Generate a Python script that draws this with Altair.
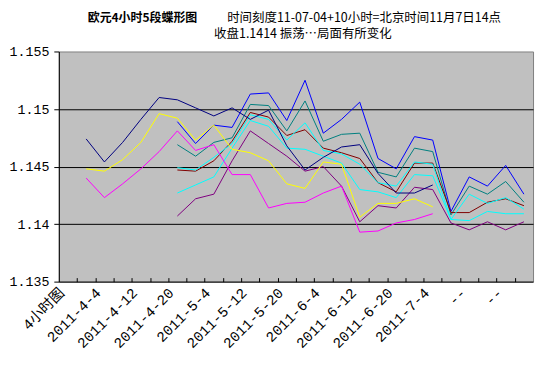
import altair as alt
import pandas as pd

# ---- data ----
tick_labels = ["4小时图", "2011-4-4", "2011-4-12", "2011-4-20", "2011-5-4", "2011-5-12",
               "2011-5-20", "2011-6-4", "2011-6-12", "2011-6-20", "2011-7-4", "--", "--"]
n_categories = 26
idx_group1 = list(range(1, 21))
idx_group2 = list(range(6, 26))

navy = [1.1474, 1.1454, 1.1471, 1.1491, 1.1510, 1.1508, 1.1501, 1.1494, 1.1501, 1.1491,
        1.1499, 1.1468, 1.1447, 1.1458, 1.1467, 1.1469, 1.1444, 1.1427, 1.1427, 1.1434]
yellow = [1.1448, 1.1446, 1.1456, 1.1471, 1.1496, 1.1492, 1.1473, 1.1486, 1.1465, 1.1462,
          1.1455, 1.1435, 1.1431, 1.1454, 1.1452, 1.1406, 1.1418, 1.1418, 1.1422, 1.1415]
magenta = [1.1440, 1.1423, 1.1435, 1.1448, 1.1463, 1.1481, 1.1464, 1.1469, 1.1443, 1.1443,
           1.1414, 1.1418, 1.1419, 1.1427, 1.1433, 1.1393, 1.1394, 1.1401, 1.1404, 1.1409]
blue = [1.1489, 1.1470, 1.1486, 1.1484, 1.1513, 1.1514, 1.1490, 1.1525, 1.1479, 1.1491,
        1.1506, 1.1457, 1.1448, 1.1476, 1.1473, 1.1411, 1.1441, 1.1433, 1.1451, 1.1426]
teal = [1.1469, 1.1459, 1.1471, 1.1475, 1.1504, 1.1503, 1.1481, 1.1507, 1.1472, 1.1478,
        1.1479, 1.1445, 1.1441, 1.1466, 1.1463, 1.1408, 1.1433, 1.1426, 1.1437, 1.1419]
darkred = [1.1447, 1.1446, 1.1455, 1.1472, 1.1497, 1.1493, 1.1477, 1.1482, 1.1466, 1.1462,
           1.1457, 1.1436, 1.1428, 1.1453, 1.1453, 1.1410, 1.1410, 1.1419, 1.1422, 1.1416]
cyan1 = [1.1449, 1.1447, 1.1458, 1.1470, 1.1495, 1.1491, 1.1473, 1.1488, 1.1464, 1.1461,
         1.1452, 1.1436, 1.1433, 1.1454, 1.1452, 1.1404, 1.1426, 1.1418, 1.1423, 1.1413]
cyan2 = [1.1427, 1.1434, 1.1441, 1.1466, 1.1490, 1.1485, 1.1466, 1.1465, 1.1459, 1.1453,
         1.1430, 1.1428, 1.1423, 1.1443, 1.1442, 1.1404, 1.1403, 1.1411, 1.1409, 1.1409]
purple = [1.1407, 1.1422, 1.1426, 1.1455, 1.1481, 1.1470, 1.1459, 1.1446, 1.1450, 1.1433,
          1.1402, 1.1416, 1.1414, 1.1432, 1.1430, 1.1401, 1.1395, 1.1402, 1.1395, 1.1402]

series_names = ["s1", "s2", "s3", "s4", "s5", "s6", "s7", "s8", "s9"]
series_colors = ["#000080", "#FFFF00", "#FF00FF", "#0000FF", "#008080", "#800000",
                 "#00FFFF", "#00FFFF", "#800080"]

title_bold = "欧元4小时5段蝶形图"
title_rest = "时间刻度11-07-04+10小时=北京时间11月7日14点"
title_line2 = "收盘1.1414 振荡…局面有所变化"

y_ticks = [1.135, 1.14, 1.145, 1.15, 1.155]

# ---- build tables ----
rows1, rows2 = [], []
for name, vals in zip(series_names[:3], [navy, yellow, magenta]):
    for i, v in zip(idx_group1, vals):
        rows1.append({"s": name, "i": i, "v": v})
for name, vals in zip(series_names[3:], [blue, teal, darkred, cyan1, cyan2, purple]):
    for i, v in zip(idx_group2, vals):
        rows2.append({"s": name, "i": i, "v": v})
df1 = pd.DataFrame(rows1)
df2 = pd.DataFrame(rows2)

W, H = 476, 231

xscale = alt.Scale(domain=[-0.5, n_categories - 0.5], nice=False, zero=False)
yscale = alt.Scale(domain=[1.135, 1.155], nice=False, zero=False)
cscale = alt.Scale(domain=series_names, range=series_colors)

label_js = "[" + ",".join("'" + t + "'" for t in tick_labels) + "]"
label_axis = alt.Axis(
    orient="bottom", values=[2 * k for k in range(len(tick_labels))],
    labelExpr=label_js + "[round(datum.value/2)]",
    ticks=False, grid=False, domain=True, domainColor="black", title=None,
    labelAngle=-45, labelAlign="right", labelBaseline="middle",
    labelFont="Liberation Mono, Noto Sans CJK SC", labelFontSize=14.5, labelColor="black",
    labelPadding=9, labelOffset=-6, labelOverlap=False, labelBound=False, labelFlush=False,
)
tick_axis = alt.Axis(
    orient="top", offset=-H, values=[k + 0.5 for k in range(n_categories - 1)],
    labels=False, domain=False, grid=False, ticks=True, tickSize=4,
    tickColor="black", title=None,
)
y_axis = alt.Axis(
    values=y_ticks, format=".3~f", grid=True, gridColor="black",
    gridOpacity=alt.condition("datum.value > 1.1549 || datum.value < 1.1351",
                              alt.value(0), alt.value(1)),
    tickSize=5, tickColor="black", domainColor="black", title=None,
    labelFont="Liberation Mono", labelFontSize=13.3, labelColor="black", labelPadding=5,
)

lines1 = alt.Chart(df1).mark_line(strokeWidth=1).encode(
    x=alt.X("i:Q", scale=xscale, axis=label_axis),
    y=alt.Y("v:Q", scale=yscale, axis=y_axis),
    color=alt.Color("s:N", scale=cscale, legend=None),
)
lines2 = alt.Chart(df2).mark_line(strokeWidth=1).encode(
    x=alt.X("i:Q", scale=xscale, axis=tick_axis),
    y=alt.Y("v:Q", scale=yscale, axis=y_axis),
    color=alt.Color("s:N", scale=cscale, legend=None),
)

t1 = alt.Chart(pd.DataFrame({"t": [title_bold]})).mark_text(
    align="left", baseline="alphabetic", font="Noto Sans CJK SC", fontSize=12,
    fontWeight="bold", color="black").encode(x=alt.value(29), y=alt.value(-30), text="t:N")
t2 = alt.Chart(pd.DataFrame({"t": [title_rest]})).mark_text(
    align="left", baseline="alphabetic", font="Noto Sans CJK SC", fontSize=12.5,
    color="black").encode(x=alt.value(169), y=alt.value(-30), text="t:N")
t3 = alt.Chart(pd.DataFrame({"t": [title_line2]})).mark_text(
    align="center", baseline="alphabetic", font="Noto Sans CJK SC", fontSize=12.5,
    color="black").encode(x=alt.value(245), y=alt.value(-13.5), text="t:N")

chart = alt.layer(lines2, lines1, t1, t2, t3).resolve_axis(x="independent").properties(
    width=W, height=H,
    autosize=alt.AutoSizeParams(type="none"),
    padding={"left": 51, "top": 43, "right": 10, "bottom": 72},
    background="white",
).configure_view(fill="#C0C0C0", stroke="#808080", strokeWidth=1)

chart.save("out.html", embed_options={"renderer": "svg", "actions": False})
